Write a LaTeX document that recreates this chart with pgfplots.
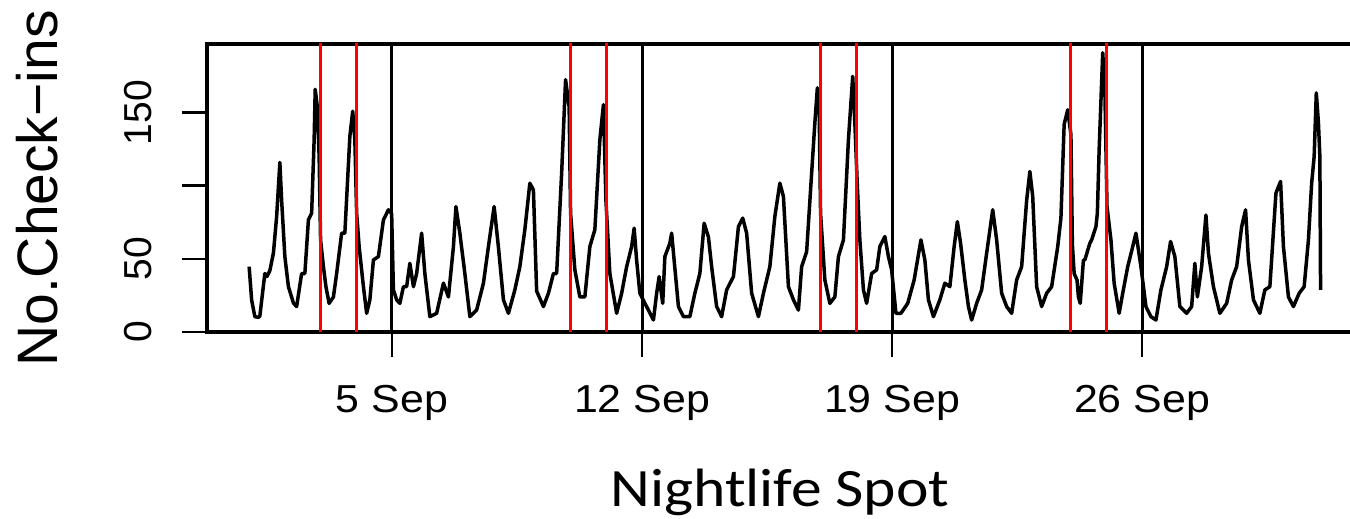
\documentclass[border=0pt]{standalone}
\usepackage{fontspec}
\setmainfont{Liberation Sans}
\newfontfamily\calibri{Carlito}
\usepackage{pgfplots}
\pgfplotsset{compat=1.18}
\usepackage{pgfplotstable}

\pgfplotstableread{
day val
1.00 44.7
1.07 21.9
1.16 10.5
1.26 10
1.30 11
1.44 40
1.50 38
1.58 42
1.68 54
1.77 79
1.86 116
1.91 90
2.00 51.6
2.10 31
2.24 19.8
2.33 17.4
2.47 40
2.56 40
2.66 76.7
2.75 81.3
2.82 131.5
2.85 166
2.91 154
2.96 120
3.00 63
3.08 44.7
3.15 31
3.24 19.6
3.36 24
3.45 40
3.59 67.6
3.68 67.6
3.82 133.8
3.90 151
3.96 131.5
4.01 81.3
4.08 58.4
4.20 31
4.29 12.8
4.38 21.9
4.48 49.3
4.62 51.6
4.76 76.7
4.90 83.6
4.99 81
5.04 28.8
5.13 22
5.22 19.6
5.32 31
5.41 31
5.50 47
5.60 31
5.69 40
5.83 67.6
5.92 40
6.06 10.5
6.25 12.8
6.44 33.4
6.58 24
6.72 58.4
6.79 85.8
6.90 67.6
7.04 40
7.18 10.5
7.37 15
7.56 33.4
7.70 58.4
7.86 85.8
7.98 58
8.12 22
8.26 12.8
8.44 28.8
8.58 44.7
8.72 70
8.86 101.8
8.96 97
9.05 28
9.24 17.4
9.38 26.5
9.52 40
9.61 40
9.75 108.7
9.86 172.6
9.96 154
10.00 81.3
10.12 42.5
10.26 24
10.40 24
10.54 58.4
10.68 70
10.82 131.5
10.92 155.5
10.99 90
11.10 40
11.29 12.8
11.43 26.5
11.57 44.7
11.71 58.4
11.78 71
11.85 49
11.94 26.5
12.08 19.6
12.18 15
12.32 8.2
12.41 26.5
12.48 37.9
12.58 19.6
12.64 51.6
12.78 60.7
12.83 67.6
12.90 49
13.02 17.4
13.16 10.5
13.34 10.5
13.48 26.5
13.62 40
13.74 74.4
13.86 65
13.95 44.7
14.09 17.4
14.23 10.5
14.37 28.8
14.56 37.9
14.70 72
14.82 77.9
14.93 67.6
15.07 26.5
15.26 10.5
15.40 26.5
15.58 44.7
15.72 79
15.86 101.8
15.96 92.7
16.10 31
16.24 22
16.38 15
16.47 44.7
16.61 55
16.75 108.7
16.84 143
16.91 167
16.96 154
17.00 81
17.12 35.6
17.26 19.6
17.40 24
17.50 51.6
17.64 63
17.78 131.5
17.90 174.9
17.96 143
18.03 99.5
18.10 63
18.20 28.8
18.29 19.6
18.43 40
18.57 42.5
18.66 58.4
18.80 65.3
18.90 51.6
18.99 42.5
19.11 12.8
19.25 12.8
19.44 19.6
19.62 35.6
19.81 63
19.92 49.3
20.02 22
20.16 10.5
20.34 22
20.48 33.4
20.62 31
20.74 58.4
20.83 75.5
20.92 60.7
21.04 35.6
21.14 17.4
21.23 8.2
21.37 19.6
21.51 28.8
21.65 53.9
21.82 83.6
21.93 63
22.07 26.5
22.21 17.4
22.35 12.8
22.49 35.6
22.63 44.7
22.77 90
22.86 109.8
22.94 92.7
23.05 31
23.19 17.4
23.33 26.5
23.47 31
23.64 58.4
23.73 78
23.82 142
23.92 152
24.01 135
24.05 60
24.10 40
24.18 35.6
24.22 24
24.27 19.6
24.36 49.3
24.40 49.3
24.54 60.7
24.59 63
24.71 72
24.75 81.3
24.80 124.7
24.90 191
24.96 165.8
25.02 85.8
25.13 63
25.22 33.4
25.36 12.8
25.46 26.5
25.60 44.7
25.74 58.4
25.83 67.6
25.97 44.7
26.11 17.4
26.25 10.5
26.39 8.2
26.53 28.8
26.69 44.7
26.80 61.9
26.92 51.6
27.06 17.4
27.25 12.8
27.39 17.4
27.48 47
27.55 24
27.67 44.7
27.79 80
27.86 53.9
28.00 31
28.18 12.8
28.37 19.6
28.51 35.6
28.65 44.7
28.79 72
28.90 83.6
28.98 49.3
29.12 22
29.30 12.8
29.44 28.8
29.58 31
29.75 95
29.88 103
29.96 58.4
30.10 24
30.24 17.4
30.40 26.5
30.54 31
30.66 63
30.75 101.8
30.82 120
30.88 163.5
30.94 143
30.98 120
31.00 28.8
}\checkins

\pgfplotstableread{
day top
3 200
4 200
10 200
11 200
17 200
18 200
24 200
25 200
}\weekend

\pgfplotstableread{
day top
5 200
12 200
19 200
26 200
}\sundays

\begin{document}
\begin{tikzpicture}
\useasboundingbox (-103.5pt,-93.5pt) rectangle (571.5pt,166pt);
\begin{axis}[
  at={(0,0)}, anchor=south west,
  scale only axis, width=572.5pt, height=144pt,
  xmin=-0.18, xmax=31.88, ymin=0, ymax=197,
  axis line style={line width=1.75pt},
  tick align=outside, tick pos=left,
  major tick length=12.5pt,
  tick style={line width=1.4pt, black},
  xtick={5,12,19,26},
  xticklabels={\scalebox{1.1}[1]{5 Sep},\scalebox{1.1}[1]{12 Sep},\scalebox{1.1}[1]{19 Sep},\scalebox{1.1}[1]{26 Sep}},
  ytick={0,50,100,150},
  yticklabels={0,50,{},150},
  xticklabel style={font=\fontsize{19.5}{20}\selectfont, anchor=base, yshift=-28pt},
  yticklabel style={font=\fontsize{19.5}{20}\selectfont, xshift=-22pt, rotate=90, anchor=center},
  xlabel={\calibri\scalebox{1.14}[1]{Nightlife Spot}},
  xlabel style={font=\fontsize{27}{30}\selectfont, at={(axis description cs:0.5004,-0.6066)}, anchor=base},
  ylabel={No.Check−ins},
  ylabel style={font=\fontsize{28.5}{30}\selectfont, at={(axis description cs:-0.148,0.498)}, anchor=center},
  clip=true,
]
\addplot[black, line width=1.75pt, line join=round] table[x=day, y=val] {\checkins};
\addplot[red, line width=1.6pt, ycomb, mark=none] table[x=day, y=top] {\weekend};
\addplot[black, line width=1.5pt, ycomb, mark=none] table[x=day, y=top] {\sundays};
\end{axis}
\end{tikzpicture}
\end{document}
